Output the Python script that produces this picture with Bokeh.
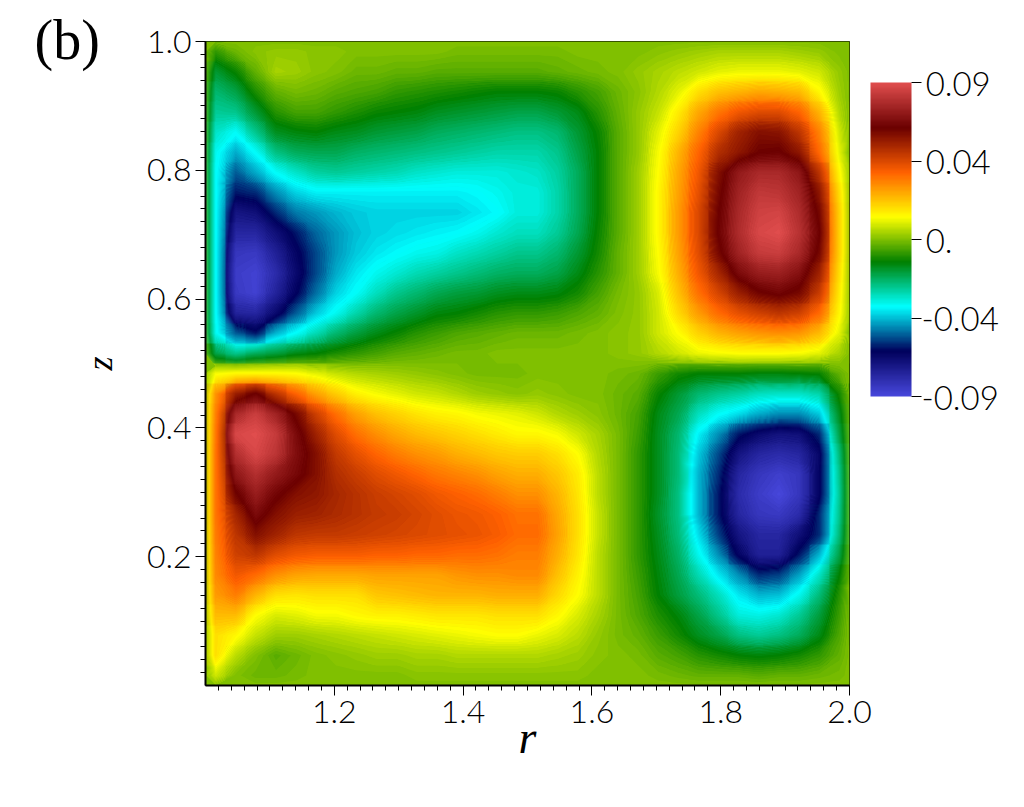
import numpy as np
from bokeh.plotting import figure
from bokeh.models import LinearColorMapper, ColorBar, FixedTicker, AllLabels, Title
from bokeh.embed import file_html
from bokeh.resources import INLINE

# field values, in thousandths; top row first, left to right
row_01 = [-8,-2,1,2,2,1,1,0,0,0,0,0,-1,-1,-1,-1,-1,-1,0,0,0,0,1,2,3,4,4,4,4,3,2,0]
row_02 = [-18,-12,-3,4,3,1,0,-2,-2,-3,-3,-4,-4,-4,-4,-4,-4,-3,-2,-1,0,2,4,6,8,10,11,11,11,10,8,2]
row_03 = [-24,-20,-10,-3,-1,-2,-4,-5,-6,-8,-9,-10,-11,-12,-13,-13,-13,-12,-9,-6,-2,1,5,10,18,23,25,27,26,24,14,3]
row_04 = [-28,-27,-18,-9,-6,-6,-8,-10,-12,-13,-14,-16,-17,-18,-19,-20,-20,-18,-15,-9,-3,2,7,16,27,35,41,44,44,38,25,5]
row_05 = [-33,-38,-27,-16,-14,-13,-15,-16,-18,-19,-20,-22,-23,-24,-25,-26,-26,-24,-18,-12,-4,2,10,20,33,45,55,60,59,50,33,8]
row_06 = [-37,-47,-38,-26,-22,-21,-21,-23,-24,-25,-26,-27,-28,-29,-30,-30,-30,-27,-20,-13,-4,2,12,25,38,52,58,64,65,58,37,10]
row_07 = [-38,-55,-47,-38,-33,-29,-28,-29,-30,-31,-33,-34,-35,-35,-35,-34,-33,-29,-22,-13,-4,3,13,27,41,60,73,78,78,72,50,14]
row_08 = [-38,-62,-60,-50,-43,-40,-40,-40,-40,-40,-40,-40,-40,-39,-37,-35,-35,-30,-22,-13,-4,3,14,28,43,62,76,83,82,76,58,18]
row_09 = [-38,-72,-70,-60,-52,-49,-46,-44,-43,-43,-43,-43,-43,-41,-39,-35,-35,-30,-22,-13,-4,3,14,29,45,64,78,86,87,79,62,20]
row_10 = [-38,-78,-78,-70,-62,-54,-49,-45,-43,-42,-41,-40,-39,-37,-34,-32,-32,-28,-21,-12,-4,3,14,29,45,65,79,88,90,81,65,20]
row_11 = [-38,-84,-85,-76,-66,-57,-49,-44,-41,-39,-37,-36,-33,-31,-29,-27,-27,-24,-18,-11,-3,3,13,28,44,62,76,84,85,78,62,20]
row_12 = [-38,-86,-88,-80,-68,-57,-47,-41,-37,-34,-31,-29,-27,-25,-23,-22,-22,-20,-15,-9,-3,3,12,26,41,54,68,74,75,70,55,18]
row_13 = [-38,-85,-88,-77,-65,-53,-43,-38,-32,-27,-24,-21,-19,-18,-16,-15,-15,-14,-11,-6,-1,2,9,23,36,46,56,63,66,62,48,16]
row_14 = [-38,-77,-78,-68,-55,-44,-37,-30,-24,-20,-17,-14,-13,-11,-9,-8,-8,-7,-5,-3,0,2,8,19,29,37,43,47,50,47,37,14]
row_15 = [-37,-55,-62,-46,-38,-31,-24,-19,-15,-12,-9,-7,-5,-4,-3,-2,-2,-2,-1,0,1,2,8,13,20,25,28,30,31,30,24,10]
row_16 = [-20,-27,-22,-19,-15,-13,-10,-8,-6,-4,-3,-2,-1,-1,0,0,0,0,0,0,1,2,5,8,11,12,13,13,13,12,10,4]
row_17 = [12,14,14,14,13,10,7,5,4,3,2,1,0,-1,-1,-1,0,0,0,0,-1,-2,-7,-11,-13,-13,-13,-14,-14,-13,-12,-3]
row_18 = [30,56,65,50,38,28,21,15,12,10,8,7,5,3,2,1,2,1,0,0,-2,-4,-12,-18,-24,-27,-29,-32,-33,-33,-30,-11]
row_19 = [33,78,85,76,62,47,36,28,23,20,17,15,14,12,11,10,8,5,3,1,-2,-6,-15,-21,-32,-38,-42,-47,-50,-50,-44,-16]
row_20 = [34,88,90,84,68,55,44,36,31,27,24,22,20,18,16,14,14,12,8,4,-1,-7,-16,-24,-40,-50,-62,-68,-71,-70,-60,-20]
row_21 = [35,80,88,82,69,60,49,43,38,34,31,29,26,24,22,21,21,18,13,5,-1,-8,-16,-25,-44,-57,-72,-78,-80,-78,-67,-25]
row_22 = [35,72,80,73,67,60,52,48,44,41,38,35,33,31,28,26,26,22,16,6,-1,-8,-16,-25,-46,-60,-78,-84,-87,-84,-66,-27]
row_23 = [35,63,74,66,60,58,54,51,48,46,44,41,39,37,34,31,31,25,17,6,-1,-8,-16,-26,-46,-62,-80,-86,-90,-84,-66,-28]
row_24 = [35,54,68,60,56,55,53,51,49,48,46,44,42,41,39,36,36,27,18,7,-1,-8,-17,-26,-46,-62,-78,-84,-85,-80,-60,-27]
row_25 = [34,50,60,55,50,49,49,48,47,46,45,44,43,42,40,37,37,28,18,7,-1,-8,-16,-25,-42,-58,-72,-78,-78,-70,-60,-25]
row_26 = [33,47,50,44,41,40,40,40,39,39,38,38,37,37,36,34,34,26,17,6,-1,-8,-15,-23,-37,-50,-66,-76,-76,-62,-46,-20]
row_27 = [32,41,37,31,28,27,27,27,28,28,28,28,30,31,31,32,32,23,15,6,-1,-7,-14,-21,-31,-41,-50,-60,-58,-48,-33,-13]
row_28 = [29,34,25,18,17,18,18,18,22,23,24,25,25,25,26,26,26,19,13,6,-1,-6,-13,-19,-25,-32,-41,-46,-45,-37,-25,-9]
row_29 = [24,24,13,9,10,12,12,14,15,15,16,17,17,17,18,18,18,14,9,4,-1,-5,-10,-14,-20,-27,-35,-36,-34,-28,-19,-7]
row_30 = [18,14,7,3,3,4,5,6,7,8,9,10,11,12,13,13,11,9,6,2,-1,-3,-7,-11,-16,-20,-26,-28,-26,-22,-15,-5]
row_31 = [18,6,0,-4,-2,0,1,2,3,3,4,4,5,5,5,5,5,4,3,1,0,-1,-4,-6,-9,-11,-13,-14,-13,-11,-8,-3]
row_32 = [8,0,-2,-2,-1,0,0,0,0,0,1,1,1,1,1,1,1,1,1,0,0,0,-1,-2,-3,-3,-3,-4,-3,-3,-2,-1]
wall_value = 0.0

x_major = [1.2, 1.4, 1.6, 1.8, 2.0]
z_major = [0.2, 0.4, 0.6, 0.8, 1.0]
bar_ticks = [0.09, 0.045, 0.0, -0.045, -0.09]
bar_labels = ["\u20090.09", "\u20090.04", "\u20090.", "-0.04", "-0.09"]

field = np.array([row_01,row_02,row_03,row_04,row_05,row_06,row_07,row_08,row_09,row_10,row_11,row_12,
                  row_13,row_14,row_15,row_16,row_17,row_18,row_19,row_20,row_21,row_22,row_23,row_24,
                  row_25,row_26,row_27,row_28,row_29,row_30,row_31,row_32], dtype=float) / 1000.0
n = field.shape[0]
centres = (np.arange(n) + 0.5) / n
xs = np.concatenate(([1.0], 1 + centres, [2.0]))
zs = np.concatenate(([0.0], centres, [1.0]))
grid = np.pad(np.flipud(field), 1, constant_values=wall_value)

# ParaView "rainbow desaturated" colour stops
stops = np.array([[71,71,219],[0,0,92],[0,255,255],[0,128,0],[255,255,0],[255,97,0],[107,0,0],[224,77,77]], float)
pos = np.linspace(0, 1, len(stops))
def ramp(count):
    t = np.linspace(0, 1, count)
    return ["#%02x%02x%02x" % tuple(int(round(np.interp(u, pos, stops[:, k]))) for k in range(3)) for u in t]
mapper = LinearColorMapper(palette=ramp(256), low=-0.09, high=0.09)

FONT = "Lato Light"
TEXT = "black"
p = figure(frame_width=644, frame_height=644, x_range=(1, 2), y_range=(0, 1),
           min_border_left=205, min_border_top=41, min_border_right=170, min_border_bottom=115,
           toolbar_location=None, output_backend="svg")
p.image(image=[np.flipud(field)], x=1, y=0, dw=1, dh=1, color_mapper=mapper)
levels = np.linspace(-0.0905, 0.0905, 182)
cr = p.contour(xs, zs, grid, levels, fill_color=ramp(181), line_color=None)
g = cr.fill_renderer.glyph
g.line_color = g.fill_color
g.line_width = 1.5
p.grid.visible = False
p.outline_line_color = "black"
p.outline_line_width = 1

p.title = Title(text="(b)", align="left", offset=-171, standoff=-59, text_font="Liberation Serif",
                text_font_size="56px", text_font_style="normal", text_color="black")

minor = [round(1 + 0.02 * i, 2) for i in range(1, 51)]
p.xaxis.ticker = FixedTicker(ticks=x_major, minor_ticks=minor)
p.yaxis.ticker = FixedTicker(ticks=z_major, minor_ticks=[round(v - 1, 2) for v in minor])
p.xaxis.major_label_overrides = {2.0: "2.0"}
p.yaxis.major_label_overrides = {1.0: "1.0"}
for ax in (p.xaxis[0], p.yaxis[0]):
    ax.major_tick_out = 10
    ax.major_tick_in = 0
    ax.minor_tick_out = 5
    ax.minor_tick_in = 0
    ax.axis_line_color = "black"
    ax.axis_line_width = 2
    ax.major_label_text_font = FONT
    ax.major_label_text_font_size = "32px"
    ax.major_label_text_color = TEXT
    ax.axis_label_text_font = "Liberation Serif"
    ax.axis_label_text_font_style = "italic"
    ax.axis_label_text_color = "black"
p.xaxis[0].major_label_standoff = 5
p.yaxis[0].major_label_standoff = 4
p.xaxis[0].axis_label = "r"
p.xaxis[0].axis_label_text_font_size = "46px"
p.xaxis[0].axis_label_standoff = -14
p.yaxis[0].axis_label = "z"
p.yaxis[0].axis_label_text_font_size = "36px"
p.yaxis[0].axis_label_standoff = 24

cb = ColorBar(color_mapper=mapper, width=41, height=314, location=(665, 289), padding=0,
              ticker=FixedTicker(ticks=bar_ticks), major_label_policy=AllLabels(),
              major_label_overrides=dict(zip(bar_ticks, bar_labels)),
              major_label_text_font=FONT, major_label_text_font_size="33px",
              major_label_text_color=TEXT, label_standoff=0,
              major_tick_line_color="black", major_tick_out=10, major_tick_in=0,
              minor_tick_line_color=None, bar_line_color=None, border_line_color=None,
              background_fill_alpha=0)
p.add_layout(cb)

open("out.html", "w").write(file_html(p, INLINE))
